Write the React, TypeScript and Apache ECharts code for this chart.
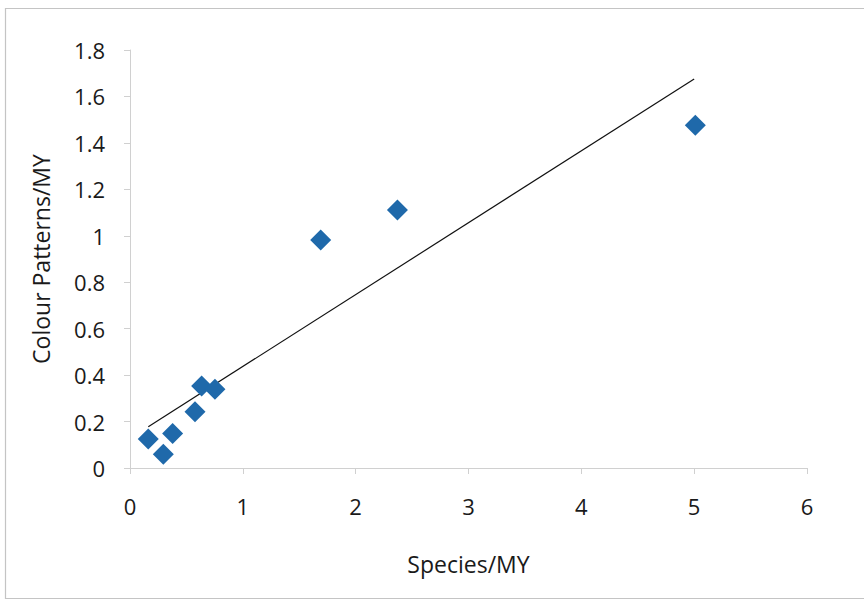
import React, { useEffect, useRef } from "react";
import * as echarts from "echarts";

const speciesPerMY = [0.162, 0.295, 0.378, 0.576, 0.635, 0.753, 1.69, 2.37, 5.01];
const coloursPerMY = [0.125, 0.059, 0.149, 0.242, 0.353, 0.339, 0.982, 1.111, 1.476];
const trendX = [0.162, 5.0];
const trendY = [0.178, 1.675];

export default function App() {
  const ref = useRef<HTMLDivElement>(null);
  useEffect(() => {
    if (!ref.current) return;
    const chart = echarts.init(ref.current, undefined, { renderer: "svg" });
    const font = "'Open Sans', Lato, sans-serif";
    chart.setOption({
      animation: false,
      backgroundColor: "#ffffff",
      graphic: [
        {
          type: "rect",
          shape: { x: 5.5, y: 8.5, width: 870, height: 590 },
          style: { fill: "none", stroke: "#c4c4c4", lineWidth: 1.2 },
          silent: true,
        },
      ],
      grid: { left: 130, right: 57, top: 50, bottom: 133 },
      xAxis: {
        type: "value",
        min: 0,
        max: 6,
        interval: 1,
        name: "Species/MY",
        nameLocation: "middle",
        nameGap: 84,
        nameTextStyle: { fontFamily: font, fontSize: 23, color: "#1a1a1a" },
        axisLine: { show: true, onZero: false, lineStyle: { color: "#d0d0d0", width: 1 } },
        axisTick: { show: true, length: 6, lineStyle: { color: "#d0d0d0" } },
        axisLabel: { fontFamily: font, fontSize: 22, color: "#1a1a1a", margin: 27 },
        splitLine: { show: false },
      },
      yAxis: {
        type: "value",
        min: 0,
        max: 1.8,
        interval: 0.2,
        name: "Colour Patterns/MY",
        nameLocation: "middle",
        nameGap: 78,
        nameTextStyle: { fontFamily: font, fontSize: 23, color: "#1a1a1a" },
        axisLine: { show: true, onZero: false, lineStyle: { color: "#d0d0d0", width: 1 } },
        axisTick: { show: true, length: 6, lineStyle: { color: "#d0d0d0" } },
        axisLabel: {
          fontFamily: font,
          fontSize: 22,
          color: "#1a1a1a",
          margin: 25,
          formatter: (v: number) => String(parseFloat(v.toFixed(1))),
        },
        splitLine: { show: false },
      },
      series: [
        {
          type: "line",
          data: trendX.map((x, i) => [x, trendY[i]]),
          symbol: "none",
          lineStyle: { color: "#111111", width: 1.2 },
          silent: true,
          z: 1,
        },
        {
          type: "scatter",
          data: speciesPerMY.map((x, i) => [x, coloursPerMY[i]]),
          symbol: "diamond",
          symbolSize: [21, 21],
          itemStyle: { color: "#1f69aa", opacity: 1 },
          z: 2,
        },
      ],
    });
    return () => chart.dispose();
  }, []);
  return (
    <div
      ref={ref}
      style={{ position: "fixed", left: 0, top: 0, width: 864, height: 601 }}
    />
  );
}
